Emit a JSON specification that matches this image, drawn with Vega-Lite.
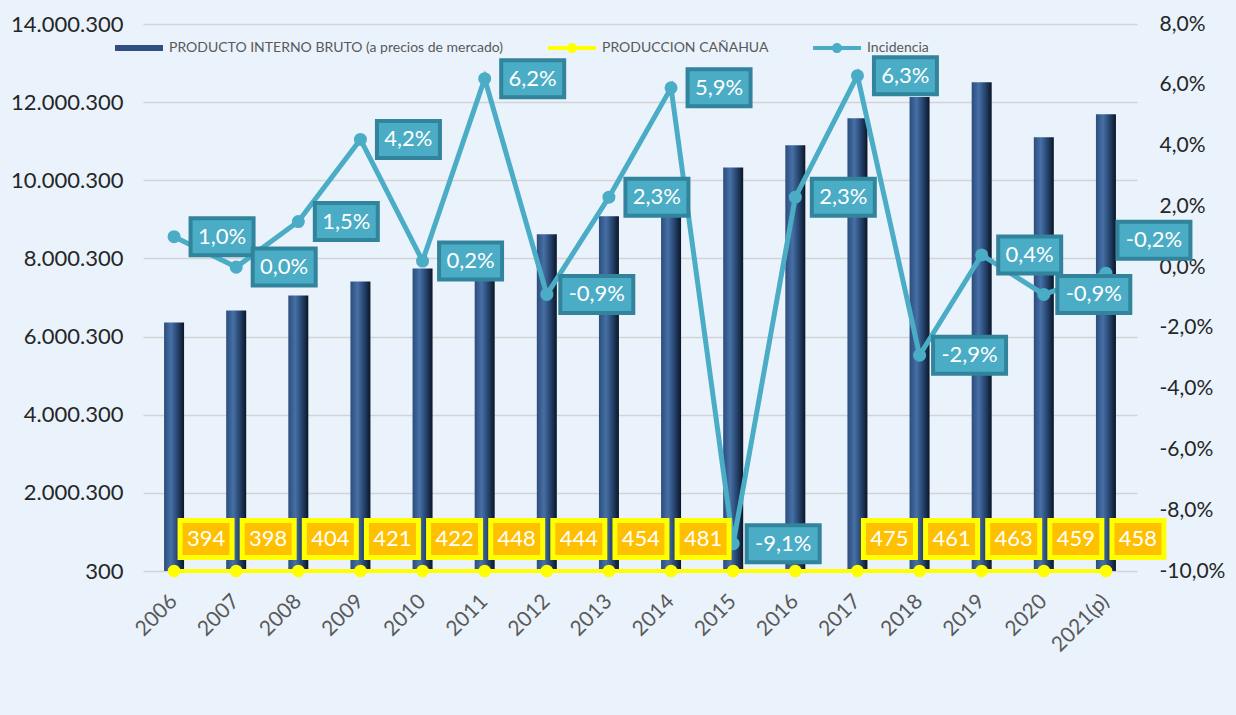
{
  "$schema": "https://vega.github.io/schema/vega-lite/v6.json",
  "width": 994,
  "height": 547,
  "autosize": {"type": "none"},
  "padding": {"left": 143, "top": 24, "right": 99, "bottom": 144},
  "background": "#eaf3fc",
  "config": {
    "locale": {"number": {"decimal": ",", "thousands": ".", "grouping": [3], "currency": ["", ""], "minus": "-"}},
    "view": {"stroke": null},
    "font": "Lato"
  },
  "data": {
    "values": [
      {"year": "2006", "pib": 6360000, "prod": 394, "inc": 0.010},
      {"year": "2007", "pib": 6670000, "prod": 398, "inc": 0.000},
      {"year": "2008", "pib": 7050000, "prod": 404, "inc": 0.015},
      {"year": "2009", "pib": 7410000, "prod": 421, "inc": 0.042},
      {"year": "2010", "pib": 7740000, "prod": 422, "inc": 0.002},
      {"year": "2011", "pib": 8150000, "prod": 448, "inc": 0.062},
      {"year": "2012", "pib": 8620000, "prod": 444, "inc": -0.009},
      {"year": "2013", "pib": 9080000, "prod": 454, "inc": 0.023},
      {"year": "2014", "pib": 9600000, "prod": 481, "inc": 0.059},
      {"year": "2015", "pib": 10330000, "prod": 470, "inc": -0.091},
      {"year": "2016", "pib": 10900000, "prod": 472, "inc": 0.023},
      {"year": "2017", "pib": 11590000, "prod": 475, "inc": 0.063},
      {"year": "2018", "pib": 12130000, "prod": 461, "inc": -0.029},
      {"year": "2019", "pib": 12510000, "prod": 463, "inc": 0.004},
      {"year": "2020", "pib": 11100000, "prod": 459, "inc": -0.009},
      {"year": "2021(p)", "pib": 11690000, "prod": 458, "inc": -0.002}
    ]
  },
  "encoding": {
    "x": {
      "field": "year", "type": "ordinal", "sort": null,
      "scale": {"paddingInner": 0, "paddingOuter": 0},
      "axis": {
        "title": null, "ticks": false, "domain": false, "grid": false,
        "labelAngle": -45, "labelAlign": "right", "labelBaseline": "middle",
        "labelFont": "Lato", "labelFontSize": 21, "labelColor": "#595959", "labelPadding": 27
      }
    }
  },
  "layer": [
    {
      "encoding": {
        "y": {
          "field": "pib", "type": "quantitative",
          "scale": {"domain": [300, 14000300], "nice": false, "zero": false},
          "axis": {
            "title": null, "orient": "left", "ticks": false, "domain": false,
            "values": [300, 2000300, 4000300, 6000300, 8000300, 10000300, 12000300, 14000300],
            "format": ",d", "labelFont": "Lato", "labelFontSize": 22, "labelColor": "#262626",
            "labelPadding": 20, "grid": true, "gridColor": "#d3d3d3", "gridWidth": 1.5
          }
        }
      },
      "layer": [
        {
          "mark": {
            "type": "bar", "width": 20,
            "fill": {"gradient": "linear", "x1": 0, "x2": 1, "y1": 0, "y2": 0,
              "stops": [
                {"offset": 0, "color": "#2c4c7c"},
                {"offset": 0.35, "color": "#4670a6"},
                {"offset": 0.75, "color": "#1f3a60"},
                {"offset": 1, "color": "#0c1524"}
              ]}
          }
        },
        {
          "mark": {"type": "line", "color": "#ffff00", "strokeWidth": 4},
          "encoding": {
            "y": {"field": "prod", "type": "quantitative"},
            "color": {
              "datum": "PRODUCCION CAÑAHUA",
              "scale": {
                "domain": ["PRODUCTO INTERNO BRUTO (a precios de mercado)", "PRODUCCION CAÑAHUA", "Incidencia"],
                "range": ["#2f5080", "#ffff00", "#4bacc6"]
              },
              "legend": {
                "title": null, "orient": "none", "direction": "horizontal",
                "legendX": -28, "legendY": 0, "padding": 0,
                "labelFont": "Lato", "labelFontSize": 14, "labelColor": "#595959", "labelLimit": 0,
                "labelOffset": 6, "columnPadding": 44, "symbolSize": 2304,
                "encode": {
                  "symbols": {
                    "update": {
                      "shape": {"signal": "datum.value == 'PRODUCTO INTERNO BRUTO (a precios de mercado)' ? 'M-1,-0.13L1,-0.13L1,0.13L-1,0.13Z' : 'M-1,-0.08L1,-0.08L1,0.08L-1,0.08Z M0.21,0 A0.21,0.21 0 1 1 -0.21,0 A0.21,0.21 0 1 1 0.21,0Z'"},
                      "fill": {"scale": "color", "field": "value"},
                      "stroke": {"value": "transparent"},
                      "strokeWidth": {"value": 0},
                      "size": {"value": 2304},
                      "opacity": {"value": 1}
                    }
                  }
                }
              }
            }
          }
        },
        {
          "mark": {"type": "point", "shape": "circle", "filled": true, "color": "#ffff00", "size": 160, "opacity": 1},
          "encoding": {"y": {"field": "prod", "type": "quantitative"}}
        }
      ]
    },
    {
      "encoding": {
        "y": {
          "field": "inc", "type": "quantitative",
          "scale": {"domain": [-0.10, 0.08], "nice": false, "zero": false},
          "axis": {
            "title": null, "orient": "right", "ticks": false, "domain": false, "grid": false,
            "values": [-0.10, -0.08, -0.06, -0.04, -0.02, 0, 0.02, 0.04, 0.06, 0.08],
            "format": ".1%", "labelFont": "Lato", "labelFontSize": 21, "labelColor": "#262626",
            "labelPadding": 22
          }
        }
      },
      "layer": [
        {
          "mark": {"type": "line", "color": "#4bacc6", "strokeWidth": 5},
          "encoding": {"color": {"datum": "Incidencia"}}
        },
        {
          "mark": {"type": "point", "shape": "circle", "filled": true, "color": "#4bacc6", "size": 170, "opacity": 1}
        },
        {
          "transform": [{"filter": "datum.inc >= 0"}],
          "mark": {"type": "point", "shape": "M-1,-0.587L1,-0.587L1,0.587L-1,0.587Z", "filled": true, "fill": "#4bacc6", "stroke": "#31849b", "strokeWidth": 4, "size": 3969, "opacity": 1, "xOffset": 48}
        },
        {
          "transform": [{"filter": "datum.inc < 0 && datum.year != '2021(p)'"}],
          "mark": {"type": "point", "shape": "M-1,-0.507L1,-0.507L1,0.507L-1,0.507Z", "filled": true, "fill": "#4bacc6", "stroke": "#31849b", "strokeWidth": 4, "size": 5329, "opacity": 1, "xOffset": 50}
        },
        {
          "transform": [{"filter": "datum.year == '2021(p)'"}],
          "mark": {"type": "point", "shape": "M-1,-0.507L1,-0.507L1,0.507L-1,0.507Z", "filled": true, "fill": "#4bacc6", "stroke": "#31849b", "strokeWidth": 4, "size": 5329, "opacity": 1, "xOffset": 48, "yOffset": -33}
        },
        {
          "transform": [{"filter": "datum.inc >= 0"}],
          "mark": {"type": "text", "font": "Lato", "fontSize": 22, "fill": "#ffffff", "align": "center", "baseline": "middle", "dx": 48},
          "encoding": {"text": {"field": "inc", "type": "quantitative", "format": ".1%"}}
        },
        {
          "transform": [{"filter": "datum.inc < 0 && datum.year != '2021(p)'"}],
          "mark": {"type": "text", "font": "Lato", "fontSize": 22, "fill": "#ffffff", "align": "center", "baseline": "middle", "dx": 50},
          "encoding": {"text": {"field": "inc", "type": "quantitative", "format": ".1%"}}
        },
        {
          "transform": [{"filter": "datum.year == '2021(p)'"}],
          "mark": {"type": "text", "font": "Lato", "fontSize": 22, "fill": "#ffffff", "align": "center", "baseline": "middle", "dx": 48, "dy": -33},
          "encoding": {"text": {"field": "inc", "type": "quantitative", "format": ".1%"}}
        }
      ]
    },
    {
      "transform": [{"filter": "datum.year != '2015' && datum.year != '2016'"}],
      "encoding": {
        "y": {
          "field": "prod", "type": "quantitative",
          "scale": {"domain": [300, 14000300], "nice": false, "zero": false},
          "axis": null
        }
      },
      "layer": [
        {
          "mark": {"type": "point", "shape": "M-1,-0.712L1,-0.712L1,0.712L-1,0.712Z", "filled": true, "fill": "#ffc000", "stroke": "#ffff00", "strokeWidth": 5, "size": 2704, "opacity": 1, "xOffset": 32, "yOffset": -32}
        },
        {
          "mark": {"type": "text", "font": "Lato", "fontSize": 22, "fill": "#ffffff", "align": "center", "baseline": "middle", "dx": 32, "dy": -32},
          "encoding": {"text": {"field": "prod", "type": "quantitative", "format": "d"}}
        }
      ]
    }
  ],
  "resolve": {"scale": {"y": "independent"}}
}
